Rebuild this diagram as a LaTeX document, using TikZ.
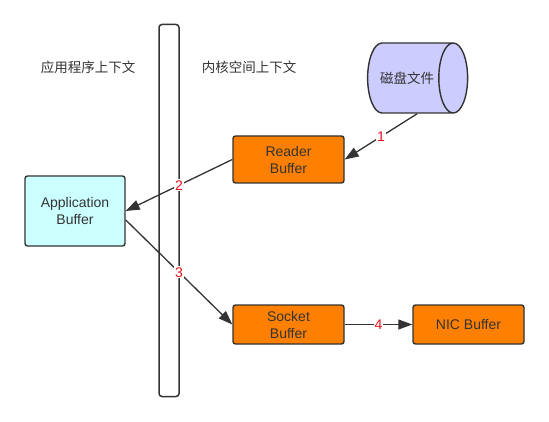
\documentclass[tikz,border=0pt]{standalone}
\usepackage{fontspec}
\setmainfont{Liberation Sans}
\newfontfamily\cjk{Noto Sans CJK SC}
\usetikzlibrary{arrows.meta,shapes.geometric}
\definecolor{linegray}{HTML}{333333}
\definecolor{bufcol}{HTML}{FF8000}
\definecolor{appcol}{HTML}{CCFFFF}
\definecolor{diskcol}{HTML}{CCCCFF}
\definecolor{numred}{HTML}{E8101A}
\begin{document}
\begin{tikzpicture}[x=1pt,y=-1pt,
    >={Triangle[length=14pt,width=10pt]},
    box/.style={draw=linegray,line width=1.4pt,rounded corners=2.5pt,align=center,
        minimum width=111pt,text=linegray,font=\fontsize{14}{17}\selectfont},
    num/.style={fill=white,inner sep=1pt,text=numred,font=\fontsize{14}{16}\selectfont},
    ctx/.style={text=linegray,font=\cjk\fontsize{13.5}{16}\selectfont}]
    \useasboundingbox (0,0) rectangle (549,422);
    % Trennlinie zwischen den Kontexten
    \node (bar) at (169,210.5) [draw=linegray,line width=1.5pt,rounded corners=3pt,
        minimum width=20pt,minimum height=372pt] {};
    \node (userctx) at (88,67) [ctx] {应用程序上下文};
    \node (kernctx) at (249,67) [ctx] {内核空间上下文};
    \node (disk) at (407,78) [cylinder,draw=linegray,line width=1.4pt,fill=diskcol,
        aspect=1.5,minimum width=70pt,minimum height=100pt,text=linegray,
        font=\cjk\fontsize{13.5}{16}\selectfont] {磁盘文件};
    \node (reader) at (288.5,159.5) [box,fill=bufcol,minimum height=47pt] {Reader\\Buffer};
    \node (app) at (75,211) [box,fill=appcol,minimum width=100pt,minimum height=70pt] {Application\\Buffer};
    \node (socket) at (288.5,324.5) [box,fill=bufcol,minimum height=39pt] {Socket\\Buffer};
    \node (nic) at (468.5,324.5) [box,fill=bufcol,minimum height=39pt] {NIC Buffer};
    \draw[->,line width=1.3pt,linegray] (disk.-74)--(reader.east) node [midway,num] {1};
    \draw[->,line width=1.3pt,linegray] (reader.west)--(app.east) node [midway,num] {2};
    \draw[->,line width=1.3pt,linegray] (app.-10)--(socket.west) node [midway,num] {3};
    \draw[->,line width=1.3pt,linegray] (socket.east)--(nic.west) node [midway,num] {4};
\end{tikzpicture}
\end{document}
